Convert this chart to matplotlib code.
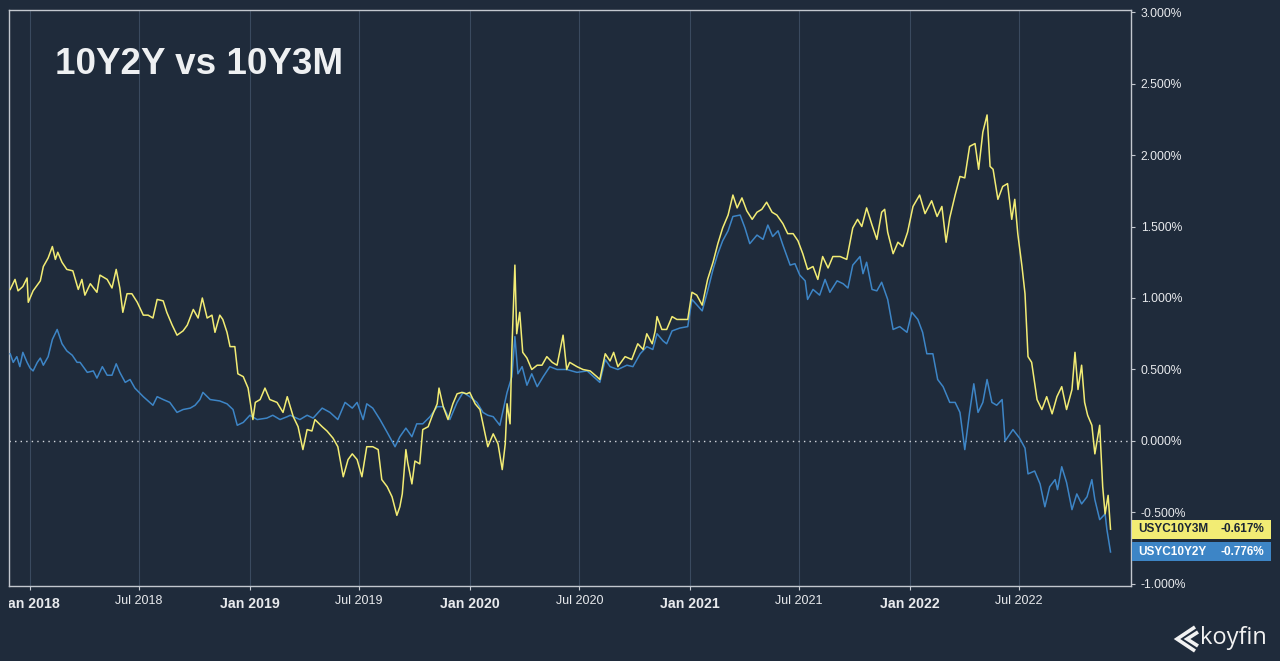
import matplotlib
matplotlib.use('Agg')
import matplotlib.pyplot as plt
from matplotlib.patches import Rectangle
from matplotlib.lines import Line2D
from matplotlib.transforms import Bbox, TransformedBbox, blended_transform_factory
import pandas as pd

# ---------------- data (days since 2018-01-01, spread in %) ----------------
days_10y3m = [
    -33, -25, -20, -12, -5, -3, 5, 17, 22, 30,
    37, 42, 46, 53, 61, 71, 80, 86, 91, 100,
    111, 116, 128, 136, 143, 149, 154, 161, 169, 178,
    188, 196, 204, 211, 221, 227, 236, 244, 254, 261,
    271, 279, 286, 294, 302, 307, 315, 320, 327, 332,
    340, 345, 354, 362, 370, 374, 382, 390, 398, 410,
    420, 427, 437, 445, 453, 460, 468, 473, 485, 493,
    503, 511, 520, 528, 535, 543, 551, 559, 569, 578,
    584, 593, 601, 609, 614, 618, 624, 627, 634, 639,
    647, 652, 661, 669, 676, 679, 686, 694, 702, 709,
    717, 725, 730, 739, 747, 754, 760, 769, 777, 784,
    789, 792, 797, 800, 805, 808, 813, 818, 825, 833,
    842, 850, 858, 867, 875, 885, 891, 896, 908, 918,
    930, 941, 946, 955, 963, 969, 976, 988, 999, 1009,
    1018, 1024, 1033, 1038, 1041, 1049, 1057, 1066, 1074, 1082,
    1092, 1099, 1107, 1116, 1125, 1134, 1142, 1150, 1159, 1167,
    1174, 1182, 1190, 1199, 1207, 1215, 1223, 1232, 1240, 1250,
    1258, 1267, 1275, 1283, 1291, 1300, 1308, 1316, 1325, 1333,
    1345, 1356, 1366, 1374, 1381, 1389, 1398, 1406, 1414, 1419,
    1424, 1433, 1441, 1449, 1457, 1466, 1477, 1486, 1497, 1506,
    1514, 1521, 1527, 1536, 1544, 1552, 1560, 1569, 1575, 1582,
    1589, 1594, 1599, 1607, 1615, 1623, 1630, 1635, 1640, 1647,
    1652, 1657, 1663, 1672, 1680, 1688, 1697, 1705, 1713, 1721,
    1730, 1735, 1740, 1746, 1751, 1756, 1763, 1768, 1776, 1781,
    1785, 1790, 1794,
]
vals_10y3m = [
    1.06, 1.13, 1.05, 1.08, 1.14, 0.97, 1.05, 1.12, 1.22, 1.28,
    1.36, 1.27, 1.32, 1.25, 1.20, 1.19, 1.06, 1.13, 1.02, 1.10,
    1.04, 1.16, 1.13, 1.07, 1.20, 1.07, 0.90, 1.03, 1.03, 0.97,
    0.88, 0.88, 0.86, 0.99, 0.98, 0.90, 0.81, 0.74, 0.77, 0.81,
    0.92, 0.86, 1.00, 0.86, 0.88, 0.76, 0.88, 0.85, 0.76, 0.66,
    0.66, 0.47, 0.45, 0.37, 0.15, 0.27, 0.29, 0.37, 0.29, 0.27,
    0.20, 0.31, 0.17, 0.10, -0.06, 0.08, 0.07, 0.15, 0.10, 0.07,
    0.02, -0.04, -0.25, -0.13, -0.09, -0.13, -0.25, -0.04, -0.04, -0.06,
    -0.27, -0.32, -0.39, -0.52, -0.46, -0.37, -0.06, -0.15, -0.30, -0.14,
    -0.16, 0.08, 0.10, 0.19, 0.26, 0.37, 0.24, 0.15, 0.26, 0.33,
    0.34, 0.33, 0.34, 0.26, 0.22, 0.08, -0.04, 0.05, -0.02, -0.20,
    -0.02, 0.26, 0.12, 0.64, 1.23, 0.75, 0.90, 0.62, 0.58, 0.50,
    0.53, 0.53, 0.59, 0.55, 0.53, 0.74, 0.50, 0.55, 0.52, 0.50,
    0.49, 0.45, 0.43, 0.61, 0.56, 0.62, 0.52, 0.59, 0.57, 0.68,
    0.64, 0.75, 0.68, 0.77, 0.87, 0.78, 0.78, 0.87, 0.85, 0.85,
    0.85, 1.04, 1.02, 0.95, 1.13, 1.25, 1.38, 1.49, 1.58, 1.72,
    1.63, 1.70, 1.61, 1.55, 1.60, 1.62, 1.67, 1.60, 1.58, 1.52,
    1.45, 1.45, 1.40, 1.31, 1.20, 1.22, 1.13, 1.29, 1.21, 1.29,
    1.29, 1.27, 1.49, 1.55, 1.50, 1.63, 1.51, 1.41, 1.60, 1.62,
    1.46, 1.31, 1.39, 1.36, 1.46, 1.64, 1.72, 1.59, 1.68, 1.57,
    1.64, 1.39, 1.56, 1.72, 1.85, 1.84, 2.06, 2.08, 1.90, 2.16,
    2.28, 1.92, 1.90, 1.69, 1.78, 1.80, 1.55, 1.69, 1.45, 1.22,
    1.03, 0.59, 0.55, 0.29, 0.22, 0.31, 0.19, 0.31, 0.38, 0.22,
    0.36, 0.62, 0.36, 0.53, 0.27, 0.18, 0.11, -0.09, 0.11, -0.32,
    -0.51, -0.38, -0.617,
]

days_10y2y = [
    -33, -28, -22, -17, -12, -5, 0, 5, 12, 17,
    22, 30, 37, 45, 53, 61, 70, 78, 83, 95,
    105, 111, 120, 128, 136, 143, 149, 158, 166, 174,
    188, 204, 211, 221, 232, 244, 254, 266, 274, 282,
    287, 299, 315, 327, 337, 344, 354, 365, 377, 393,
    403, 415, 427, 432, 448, 460, 470, 485, 498, 511,
    523, 535, 543, 553, 559, 569, 581, 593, 606, 614,
    624, 634, 642, 652, 664, 676, 686, 697, 709, 719,
    730, 742, 752, 760, 769, 780, 792, 800, 805, 810,
    817, 825, 833, 842, 852, 863, 875, 891, 908, 925,
    946, 955, 963, 976, 991, 1001, 1013, 1024, 1034, 1041,
    1051, 1057, 1066, 1079, 1092, 1099, 1116, 1125, 1134, 1142,
    1150, 1159, 1167, 1179, 1187, 1195, 1207, 1217, 1225, 1233,
    1242, 1250, 1262, 1270, 1278, 1287, 1291, 1300, 1311, 1320,
    1328, 1340, 1350, 1358, 1366, 1378, 1383, 1389, 1398, 1406,
    1414, 1424, 1433, 1444, 1456, 1464, 1474, 1482, 1489, 1499,
    1507, 1516, 1527, 1536, 1544, 1552, 1560, 1567, 1574, 1582,
    1589, 1597, 1605, 1614, 1619, 1632, 1643, 1652, 1657, 1668,
    1677, 1685, 1693, 1702, 1706, 1713, 1721, 1730, 1738, 1746,
    1755, 1763, 1768, 1776, 1785, 1788, 1794,
]
vals_10y2y = [
    0.61, 0.55, 0.59, 0.52, 0.62, 0.55, 0.51, 0.49, 0.55, 0.58,
    0.53, 0.59, 0.71, 0.78, 0.68, 0.63, 0.60, 0.55, 0.55, 0.48,
    0.49, 0.44, 0.52, 0.46, 0.46, 0.54, 0.48, 0.41, 0.43, 0.37,
    0.31, 0.25, 0.31, 0.29, 0.27, 0.20, 0.22, 0.23, 0.25, 0.29,
    0.34, 0.29, 0.28, 0.26, 0.22, 0.11, 0.13, 0.18, 0.15, 0.16,
    0.18, 0.15, 0.17, 0.18, 0.15, 0.18, 0.16, 0.23, 0.20, 0.15,
    0.27, 0.23, 0.27, 0.15, 0.26, 0.23, 0.15, 0.06, -0.04, 0.03,
    0.09, 0.03, 0.12, 0.12, 0.17, 0.24, 0.24, 0.15, 0.27, 0.34,
    0.31, 0.27, 0.20, 0.18, 0.17, 0.11, 0.34, 0.45, 0.73, 0.47,
    0.52, 0.39, 0.47, 0.38, 0.45, 0.52, 0.50, 0.50, 0.48, 0.49,
    0.41, 0.57, 0.52, 0.50, 0.53, 0.52, 0.61, 0.66, 0.64, 0.75,
    0.70, 0.68, 0.77, 0.79, 0.80, 0.99, 0.91, 1.05, 1.20, 1.31,
    1.40, 1.47, 1.57, 1.58, 1.49, 1.38, 1.44, 1.41, 1.51, 1.43,
    1.47, 1.37, 1.23, 1.24, 1.16, 1.12, 0.99, 1.06, 1.02, 1.13,
    1.04, 1.12, 1.10, 1.07, 1.23, 1.29, 1.17, 1.25, 1.06, 1.05,
    1.11, 0.99, 0.78, 0.80, 0.76, 0.90, 0.85, 0.76, 0.61, 0.61,
    0.43, 0.38, 0.27, 0.27, 0.20, -0.06, 0.20, 0.40, 0.20, 0.27,
    0.43, 0.27, 0.25, 0.29, 0.00, 0.08, 0.02, -0.05, -0.23, -0.21,
    -0.30, -0.46, -0.32, -0.27, -0.34, -0.18, -0.29, -0.48, -0.37, -0.44,
    -0.39, -0.27, -0.41, -0.55, -0.51, -0.62, -0.776,
]

name_3m = "USYC10Y3M"
name_2y = "USYC10Y2Y"
title = "10Y2Y vs 10Y3M"
tick_dates = ["2018-01-01", "2018-07-01", "2019-01-01", "2019-07-01",
              "2020-01-01", "2020-07-01", "2021-01-01", "2021-07-01",
              "2022-01-01", "2022-07-01"]
tick_labels = ["Jan 2018", "Jul 2018", "Jan 2019", "Jul 2019", "Jan 2020",
               "Jul 2020", "Jan 2021", "Jul 2021", "Jan 2022", "Jul 2022"]
y_ticks = [-1.0, -0.5, 0.0, 0.5, 1.0, 1.5, 2.0, 2.5, 3.0]

# ---------------- styling ----------------
BG = '#1f2b3b'
YEL = '#f2ec74'
BLU = '#3d85c6'
TXT = '#e8eaed'
SPINE = '#c3c8cf'
GRID = '#3a4a5f'
FONT = 'Liberation Sans'

base = pd.Timestamp('2018-01-01')
x3m = base + pd.to_timedelta(days_10y3m, unit='D')
x2y = base + pd.to_timedelta(days_10y2y, unit='D')

W, H = 1280, 661
fig = plt.figure(figsize=(W / 100, H / 100), dpi=100, facecolor=BG)
ax = fig.add_axes([9 / W, 75 / H, 1122 / W, 576 / H])
ax.set_facecolor(BG)

ax.plot(x2y, vals_10y2y, color=BLU, lw=1.1, zorder=3)
ax.plot(x3m, vals_10y3m, color=YEL, lw=1.1, zorder=4)

ax.axhline(0, color='#d5d9df', lw=1.0, ls=(0, (1, 3)), zorder=2)

ax.set_xlim(base - pd.Timedelta(days=35), base + pd.Timedelta(days=1828))
ax.set_ylim(-1.014, 3.014)

tdates = pd.to_datetime(tick_dates)
ax.set_xticks(tdates)
ax.set_xticklabels([])
ax.tick_params(axis='x', length=3, width=0.8, color=SPINE, direction='out')
ax.grid(axis='x', color=GRID, lw=0.8)
ax.grid(axis='y', visible=False)

ax.yaxis.tick_right()
ax.set_yticks(y_ticks)
ax.set_yticklabels([f"{v:.3f}%" for v in y_ticks], fontsize=8.7,
                   color=TXT, family=FONT)
ax.tick_params(axis='y', length=3, width=0.8, color=SPINE, pad=4)

for s in ax.spines.values():
    s.set_color(SPINE)
    s.set_linewidth(1.0)

# x labels (Jan bold, Jul regular), clipped at plot's left edge
clipbox = TransformedBbox(Bbox([[9 / W, 0], [1, 1]]), fig.transFigure)
xtrans = blended_transform_factory(ax.transData, ax.transAxes)
for d, lab in zip(tdates, tick_labels):
    if lab.startswith('Jan'):
        t = ax.text(d, -0.0315, lab, transform=xtrans, ha='center', va='center',
                    fontsize=10.2, fontweight='bold', color=TXT, family=FONT)
    else:
        t = ax.text(d, -0.026, lab, transform=xtrans, ha='center', va='center',
                    fontsize=9, color=TXT, family=FONT)
    t.set_clip_on(True)
    t.set_clip_box(clipbox)

# title
fig.text(55 / W, 1 - 64 / H, title, fontsize=26.5, fontweight='bold',
         color='#eef0f2', family=FONT, ha='left', va='center')

# last-value labels
ltrans = blended_transform_factory(fig.transFigure, ax.transData)
bh = 0.133
for name, vals, col, tcol in [(name_3m, vals_10y3m, YEL, '#1b2535'),
                              (name_2y, vals_10y2y, BLU, '#ffffff')]:
    last = vals[-1]
    r = Rectangle((1132 / W, last - bh / 2), 139 / W, bh, transform=ltrans,
                  facecolor=col, edgecolor='none', clip_on=False, zorder=5)
    ax.add_artist(r)
    ax.text(1138 / W, last, name, transform=ltrans, ha='left', va='center',
            fontsize=8.5, fontweight='bold', color=tcol, family=FONT,
            clip_on=False, zorder=6)
    ax.text(1264 / W, last, f"{last:.3f}%", transform=ltrans, ha='right',
            va='center', fontsize=8.5, fontweight='bold', color=tcol,
            family=FONT, clip_on=False, zorder=6)

# koyfin logo
fig.text(1200 / W, 1 - 638 / H, "koyfin", fontsize=17, color='#f2f2f2',
         family='Open Sans', ha='left', va='center')
for pts in ([(1195, 627), (1177, 639), (1195, 651)],
            [(1198, 632), (1187, 639), (1198, 646)]):
    xs = [p[0] / W for p in pts]
    ys = [1 - p[1] / H for p in pts]
    fig.add_artist(Line2D(xs, ys, transform=fig.transFigure, color='#f2f2f2',
                          lw=2.6, solid_joinstyle='miter', solid_capstyle='butt'))

fig.savefig('out.png', dpi=100, facecolor=BG)
